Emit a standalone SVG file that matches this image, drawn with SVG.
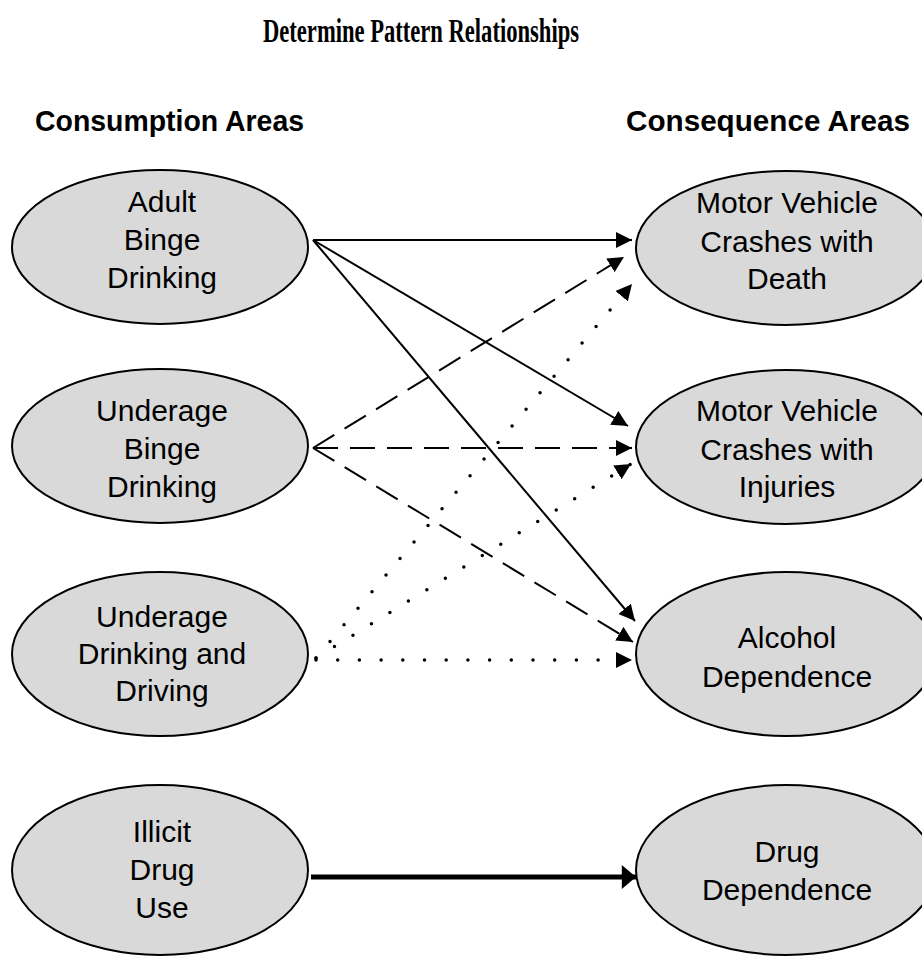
<svg xmlns="http://www.w3.org/2000/svg" width="922" height="962" viewBox="0 0 922 962">
  <style>
    .title { font-family: "Liberation Serif", "Times New Roman", serif; font-weight: bold; font-size: 33px; fill: #000; }
    .head { font-family: "Liberation Sans", Arial, sans-serif; font-weight: bold; font-size: 30px; fill: #000; }
    .node ellipse { fill: #d9d9d9; stroke: #000; stroke-width: 2; }
    .node text { font-family: "Liberation Sans", Arial, sans-serif; font-size: 30px; fill: #000; text-anchor: middle; }
    .solid { stroke: #000; stroke-width: 2; fill: none; marker-end: url(#arrow); }
    .dash { stroke: #000; stroke-width: 2; fill: none; stroke-dasharray: 25 12; marker-end: url(#arrow); }
    .dot { stroke: #000; stroke-width: 3.5; fill: none; stroke-linecap: round; stroke-dasharray: 0 21.7; marker-end: url(#arrow); }
    .bold { stroke: #000; stroke-width: 5; fill: none; marker-end: url(#arrowBold); }
  </style>
  <defs>
    <marker id="arrow" markerUnits="userSpaceOnUse" markerWidth="16" markerHeight="16" viewBox="0 0 14 14" refX="14" refY="7" orient="auto">
      <path d="M0,0 L14,7 L0,14 Z" fill="#000"/>
    </marker>
    <marker id="arrowBold" markerUnits="userSpaceOnUse" markerWidth="15" markerHeight="24" viewBox="0 0 13 22" refX="13" refY="11" orient="auto">
      <path d="M0,0 L13,11 L0,22 Z" fill="#000"/>
    </marker>
  </defs>

  <!-- headings -->
  <text class="title" x="421" y="42" text-anchor="middle" textLength="316" lengthAdjust="spacingAndGlyphs">Determine Pattern Relationships</text>
  <text class="head" x="35" y="131" textLength="269" lengthAdjust="spacingAndGlyphs">Consumption Areas</text>
  <text class="head" x="626" y="131" textLength="284" lengthAdjust="spacingAndGlyphs">Consequence  Areas</text>

  <!-- connectors -->
  <g id="connectors">
    <!-- adult binge drinking -->
    <line class="solid" x1="313" y1="240" x2="632" y2="240"/>
    <line class="solid" x1="313" y1="240" x2="628" y2="426"/>
    <line class="solid" x1="313" y1="240" x2="635" y2="621"/>
    <!-- underage binge drinking -->
    <line class="dash" x1="313" y1="448" x2="624" y2="257"/>
    <line class="dash" x1="313" y1="448" x2="632" y2="448"/>
    <line class="dash" x1="313" y1="448" x2="633" y2="642"/>
    <!-- underage drinking and driving -->
    <line class="dot" x1="316" y1="658" x2="632" y2="284"/>
    <line class="dot" x1="316" y1="658" x2="631" y2="464"/>
    <line class="dot" x1="316" y1="660" x2="632" y2="660"/>
    <!-- illicit drug use -->
    <line class="bold" x1="311" y1="877" x2="636" y2="877"/>
  </g>

  <!-- consumption areas -->
  <g id="adult-binge" class="node">
    <ellipse cx="160" cy="247" rx="148" ry="77"/>
    <text x="162" y="212">Adult</text>
    <text x="162" y="250">Binge</text>
    <text x="162" y="288">Drinking</text>
  </g>
  <g id="underage-binge" class="node">
    <ellipse cx="160" cy="446" rx="148" ry="77"/>
    <text x="162" y="421">Underage</text>
    <text x="162" y="459">Binge</text>
    <text x="162" y="497">Drinking</text>
  </g>
  <g id="underage-driving" class="node">
    <ellipse cx="160" cy="654" rx="148" ry="82"/>
    <text x="162" y="627">Underage</text>
    <text x="162" y="664">Drinking and</text>
    <text x="162" y="701">Driving</text>
  </g>
  <g id="illicit-drug" class="node">
    <ellipse cx="160" cy="870" rx="148" ry="85"/>
    <text x="162" y="842">Illicit</text>
    <text x="162" y="880">Drug</text>
    <text x="162" y="918">Use</text>
  </g>

  <!-- consequence areas -->
  <g id="mv-death" class="node">
    <ellipse cx="786" cy="248" rx="150" ry="77"/>
    <text x="787" y="213">Motor Vehicle</text>
    <text x="787" y="252">Crashes with</text>
    <text x="787" y="289">Death</text>
  </g>
  <g id="mv-injuries" class="node">
    <ellipse cx="786" cy="447" rx="150" ry="77"/>
    <text x="787" y="421">Motor Vehicle</text>
    <text x="787" y="460">Crashes with</text>
    <text x="787" y="497">Injuries</text>
  </g>
  <g id="alcohol-dep" class="node">
    <ellipse cx="786" cy="654" rx="150" ry="82"/>
    <text x="787" y="648">Alcohol</text>
    <text x="787" y="687">Dependence</text>
  </g>
  <g id="drug-dep" class="node">
    <ellipse cx="786" cy="870" rx="150" ry="85"/>
    <text x="787" y="862">Drug</text>
    <text x="787" y="900">Dependence</text>
  </g>
</svg>
